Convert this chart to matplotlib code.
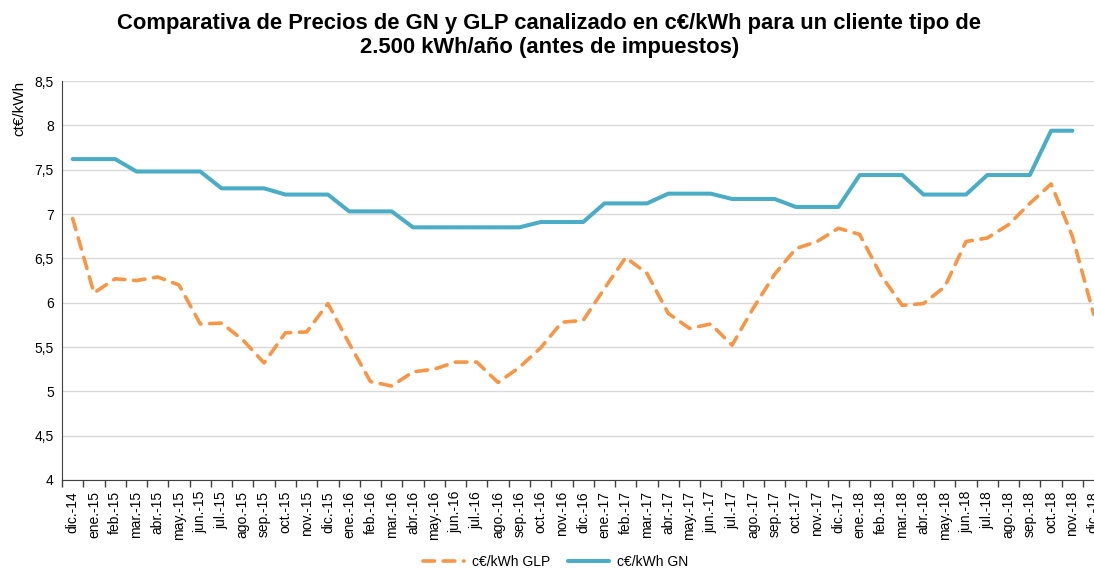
import matplotlib
matplotlib.use("Agg")
import matplotlib.pyplot as plt
import numpy as np

plt.rcParams['font.family'] = ['Liberation Sans', 'DejaVu Sans']

meses = ["ene.", "feb.", "mar.", "abr.", "may.", "jun.",
         "jul.", "ago.", "sep.", "oct.", "nov.", "dic."]
etiquetas = ["dic.-14"] + [m + "-" + a for a in ["15", "16", "17", "18"] for m in meses]

glp = [6.95, 6.11, 6.27, 6.25, 6.29, 6.20, 5.76, 5.77, 5.58, 5.32,
       5.66, 5.67, 5.99, 5.54, 5.11, 5.06, 5.22, 5.25, 5.33, 5.33,
       5.10, 5.27, 5.49, 5.78, 5.80, 6.16, 6.51, 6.33, 5.88, 5.71,
       5.76, 5.52, 5.94, 6.32, 6.61, 6.69, 6.84, 6.77, 6.31, 5.97,
       5.99, 6.18, 6.69, 6.73, 6.88, 7.12, 7.34, 6.75, 5.87]

gn = [7.62, 7.62, 7.62, 7.48, 7.48, 7.48, 7.48, 7.29, 7.29, 7.29,
      7.22, 7.22, 7.22, 7.03, 7.03, 7.03, 6.85, 6.85, 6.85, 6.85,
      6.85, 6.85, 6.91, 6.91, 6.91, 7.12, 7.12, 7.12, 7.23, 7.23,
      7.23, 7.17, 7.17, 7.17, 7.08, 7.08, 7.08, 7.44, 7.44, 7.44,
      7.22, 7.22, 7.22, 7.44, 7.44, 7.44, 7.94, 7.94, np.nan]

x = np.arange(len(etiquetas))

fig = plt.figure(figsize=(10.94, 5.71), dpi=100)
# the original chart is cropped on the right, so the axes run past the figure edge
ax = fig.add_axes([0.0567, 0.1594, 0.9527, 0.6986])

ax.plot(x, glp, color="#F79646", lw=2.6, linestyle=(0, (3.2, 2.4)),
        dash_capstyle="round", label="c€/kWh GLP", zorder=3)
ax.plot(x, gn, color="#4BACC6", lw=2.9, solid_capstyle="round",
        solid_joinstyle="round", label="c€/kWh GN", zorder=4)

ax.set_xlim(-0.5, len(etiquetas) - 0.5)
ax.set_ylim(4, 8.5)
yt = np.arange(4, 8.51, 0.5)
ax.set_yticks(yt)
ax.set_yticklabels([("%g" % v).replace(".", ",") for v in yt], fontsize=10)
ax.tick_params(axis="y", length=0, pad=6)

ax.set_xticks(x)
ax.set_xticklabels(etiquetas, rotation=90, fontsize=10)
ax.set_xticks(np.arange(-0.5, len(etiquetas), 1), minor=True)
ax.tick_params(axis="x", which="major", length=0, pad=8)
ax.tick_params(axis="x", which="minor", length=5, width=1, color="#404040")

ax.grid(axis="y", color="#D9D9D9", lw=1)
ax.set_axisbelow(True)
for s in ["top", "right"]:
    ax.spines[s].set_visible(False)
ax.spines["left"].set_color("#404040")
ax.spines["bottom"].set_color("#404040")

fig.text(0.502, 0.938, "Comparativa de Precios de GN y GLP canalizado en c€/kWh para un cliente tipo de\n2.500 kWh/año (antes de impuestos)",
         ha="center", va="center", fontsize=15.8, fontweight="bold", linespacing=1.14)
fig.text(0.011, 0.858, "ct€/kWh", rotation=90, ha="left", va="top", fontsize=11)

fig.legend(loc="lower center", ncol=2, frameon=False, fontsize=10,
           bbox_to_anchor=(0.508, -0.018), handlelength=2.9, handletextpad=0.6,
           columnspacing=1.3)

fig.savefig("out.png", dpi=100)
